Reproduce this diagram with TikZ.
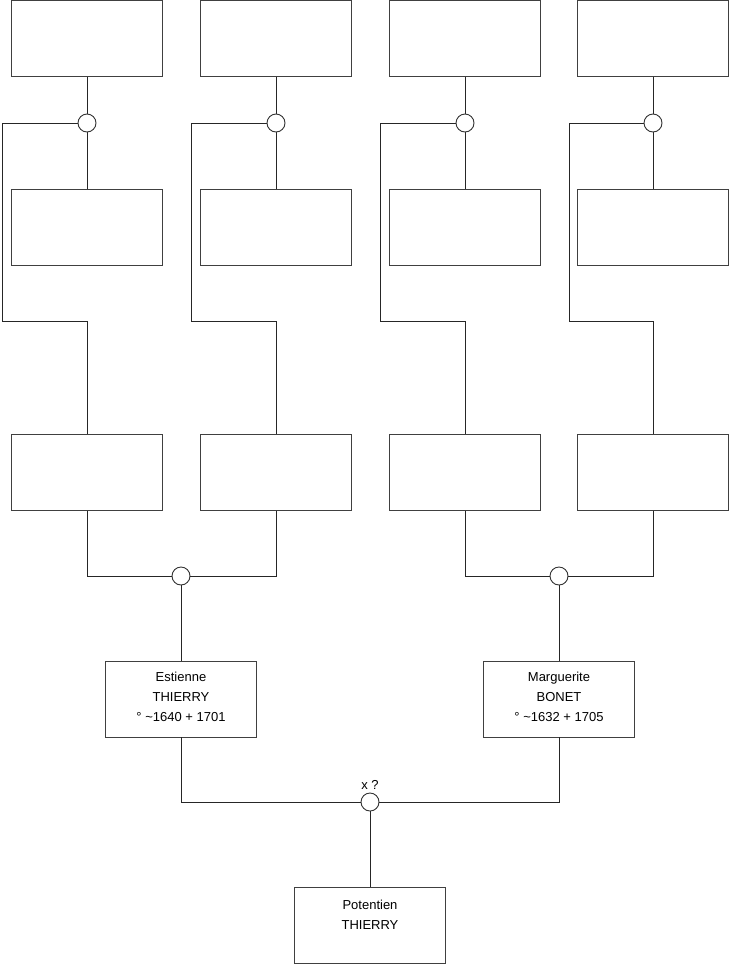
\documentclass[tikz,border=0pt]{standalone}
\usepackage{fontspec}
\setmainfont{Liberation Sans}
\begin{document}
\begin{tikzpicture}[x=1pt,y=-1pt,
  pbox/.style={draw=black!75,line width=0.9pt,minimum width=151pt,minimum height=76pt,inner sep=0pt,fill=white},
  knot/.style={draw=black!80,line width=0.9pt,circle,minimum size=18pt,inner sep=0pt,fill=white},
  link/.style={draw=black!85,line width=0.9pt},
  lbl/.style={font=\fontsize{13}{15}\selectfont,inner sep=0pt,anchor=base}]
\useasboundingbox (0,0) rectangle (740,975);
\foreach \i/\x in {1/87,2/276,3/465,4/653}{
  \node[pbox] (a\i) at (\x,38.5) {};
  \node[pbox] (b\i) at (\x,227) {};
  \node[pbox] (c\i) at (\x,472.5) {};
}
\foreach \i/\x/\l in {1/87/2,2/276/191,3/465/380,4/653/569}{
  \coordinate (k\i) at (\l,123);
  \coordinate (m\i) at (\l,321);
}
\foreach \i in {1,2,3,4}{
  \draw[link] (a\i.south) -- (b\i.north);
  \draw[link] (a\i.south |- k\i) -- (k\i) -- (m\i) -| (c\i.north);
}
\foreach \i/\x in {1/87,2/276,3/465,4/653}{
  \node[knot] (n\i) at (\x,123) {};
}
\node[knot] (d1) at (181,576) {};
\node[knot] (d2) at (559,576) {};
\draw[link] (c1.south) |- (d1.west);
\draw[link] (c2.south) |- (d1.east);
\draw[link] (c3.south) |- (d2.west);
\draw[link] (c4.south) |- (d2.east);
\node[pbox] (e1) at (181,699) {};
\node[pbox] (e2) at (559,699) {};
\draw[link] (d1.south) -- (e1.north);
\draw[link] (d2.south) -- (e2.north);
\node[lbl] (e1t1) at (181,681.5) {Estienne};
\node[lbl] (e1t2) at (181,701.5) {THIERRY};
\node[lbl] (e1t3) at (181,721.5) {° \textasciitilde1640 + 1701};
\node[lbl] (e2t1) at (559,681.5) {Marguerite};
\node[lbl] (e2t2) at (559,701.5) {BONET};
\node[lbl] (e2t3) at (559,721.5) {° \textasciitilde1632 + 1705};
\node[knot] (f) at (370,802) {};
\draw[link] (e1.south) |- (f.west);
\draw[link] (e2.south) |- (f.east);
\node[lbl] (ft) at (370,789.5) {x ?};
\node[pbox] (p) at (370,925.5) {};
\draw[link] (f.south) -- (p.north);
\node[lbl] (pt1) at (370,909.5) {Potentien};
\node[lbl] (pt2) at (370,929.5) {THIERRY};
\end{tikzpicture}
\end{document}
